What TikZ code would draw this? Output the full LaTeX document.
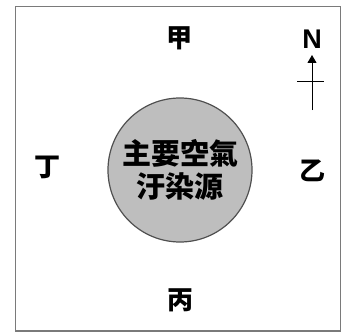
\documentclass[tikz,border=0pt]{standalone}
\usepackage{fontspec}
\newfontfamily\cjk{Noto Sans CJK TC}
\newfontfamily\arial{Liberation Sans}
\usetikzlibrary{arrows.meta}
\definecolor{framegray}{HTML}{7A7A7A}
\definecolor{fillgray}{HTML}{BEBEBE}
\definecolor{edgegray}{HTML}{505050}
\begin{document}
\begin{tikzpicture}[x=1pt,y=-1pt,
  label/.style={font=\cjk\bfseries\fontsize{26}{26}\selectfont, inner sep=0pt},
  source/.style={circle, draw=edgegray, line width=1.2pt, fill=fillgray, minimum size=144pt, inner sep=0pt, align=center,
     font=\cjk\bfseries\fontsize{29}{33}\selectfont}]
\useasboundingbox (0,0) rectangle (344,334);
\node[draw=framegray, line width=1.8pt, minimum width=325pt, minimum height=324.5pt, inner sep=0pt] (frame) at (178,168.8) {};
\node[source] (src) at (180,170) {主要空氣\\汙染源};
\node[label] (jia) at (179,38) {甲};
\node[label] (yi) at (312,171) {乙};
\node[label] (bing) at (180,300) {丙};
\node[label] (ding) at (47,167) {丁};
\node[font=\arial\bfseries\fontsize{27}{27}\selectfont, inner sep=0pt] (N) at (312,39) {N};
\coordinate (tip) at (312,55);
\coordinate (tail) at (312,110);
\coordinate (crossL) at (297,81);
\coordinate (crossR) at (324,81);
\draw[line width=1pt, -{Triangle[length=8pt,width=9pt]}] (tail) -- (tip);
\draw[line width=1pt] (crossL) -- (crossR);
\end{tikzpicture}
\end{document}
